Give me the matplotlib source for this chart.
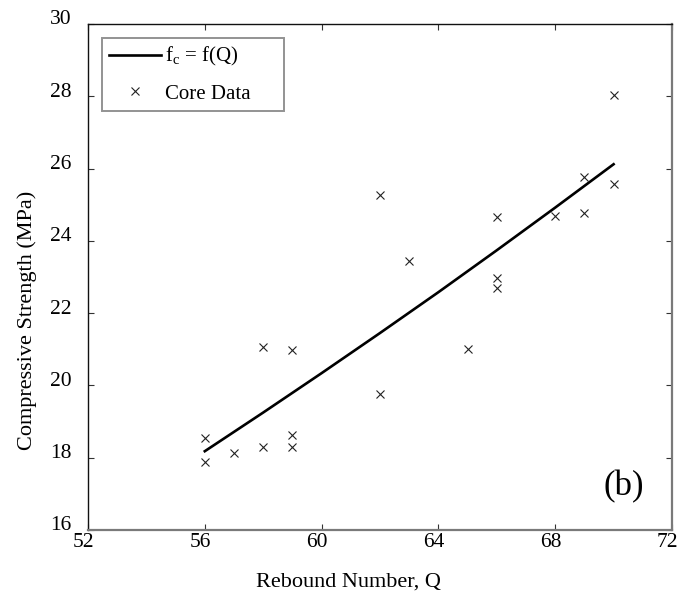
import matplotlib
matplotlib.use("Agg")
import matplotlib.pyplot as plt
from matplotlib.transforms import ScaledTranslation

plt.rcParams['font.family'] = ['Liberation Serif', 'DejaVu Serif']
plt.rcParams['mathtext.fontset'] = 'custom'
plt.rcParams['mathtext.rm'] = 'Liberation Serif'
plt.rcParams['mathtext.it'] = 'Liberation Serif:italic'

# Core test results: rebound number vs. compressive strength
core_q = [56, 56, 57, 58, 58, 59, 59, 59, 62, 62, 63, 65, 66, 66, 66, 68, 69, 69, 70, 70]
core_fc = [18.55, 17.89, 18.13, 21.07, 18.31, 20.99, 18.62, 18.30, 25.26, 19.76,
           23.45, 21.00, 24.67, 22.97, 22.70, 24.68, 25.76, 24.76, 28.04, 25.57]

# Fitted relation fc = f(Q)
fit_q = [56, 58, 60, 62, 64, 66, 68, 70]
fit_fc = [18.18, 19.25, 20.34, 21.45, 22.58, 23.74, 24.92, 26.12]

x_ticks = [52, 56, 60, 64, 68, 72]
y_ticks = [16, 18, 20, 22, 24, 26, 28, 30]

fig = plt.figure(figsize=(6.8, 5.95), dpi=100)
ax = fig.add_axes([88 / 680, 65 / 595, 584 / 680, 506 / 595])

ax.plot(fit_q, fit_fc, color='black', lw=1.9, label=r'f$_\mathrm{c}$ = f(Q)')
ax.plot(core_q, core_fc, linestyle='none', marker='x', color='#222222',
        markersize=5.8, markeredgewidth=0.8, label='Core Data')

ax.set_xlim(52, 72)
ax.set_ylim(16, 30)
ax.set_xticks(x_ticks)
ax.set_yticks(y_ticks)

ax.tick_params(direction='in', length=4.5, width=0.8, top=True, right=True,
               labelsize=15.5, color='#333333')
ax.tick_params(axis='x', pad=2.5)
ax.tick_params(axis='y', pad=12)

for side in ('left', 'top'):
    ax.spines[side].set_color('#111111')
    ax.spines[side].set_linewidth(1.0)
for side in ('right', 'bottom'):
    ax.spines[side].set_color('#7a7a7a')
    ax.spines[side].set_linewidth(1.6)

# nudge tick labels slightly
for lab in ax.get_xticklabels():
    lab.set_transform(lab.get_transform() + ScaledTranslation(-4.5 / 100, 0, fig.dpi_scale_trans))
for lab in ax.get_yticklabels():
    lab.set_transform(lab.get_transform() + ScaledTranslation(0, 6.5 / 100, fig.dpi_scale_trans))

ax.set_xlabel('Rebound Number, Q', fontsize=16)
ax.xaxis.set_label_coords((348 - 88) / 584, (530 - 592) / 506)
ax.xaxis.label.set_va('bottom')
ax.set_ylabel('Compressive Strength (MPa)', fontsize=16)
ax.yaxis.set_label_coords((37 - 88) / 584, (530 - 320) / 506)

leg_x0 = (101.7 - 88) / 584
leg_w = (284 - 101.7) / 584
leg_top = (530 - 38) / 506
leg = ax.legend(loc='upper left', bbox_to_anchor=(leg_x0, leg_top - 0.2, leg_w, 0.2),
                mode='expand', fontsize=15, frameon=True, fancybox=False,
                handlelength=2.5, handletextpad=0.2, labelspacing=0.75,
                borderpad=0.35, borderaxespad=0, numpoints=1)
leg.get_frame().set_edgecolor('#777777')
leg.get_frame().set_linewidth(1.4)

ax.text(0.918, 0.085, '(b)', transform=ax.transAxes, fontsize=25,
        ha='center', va='center')

fig.savefig('out.png', dpi=100)
